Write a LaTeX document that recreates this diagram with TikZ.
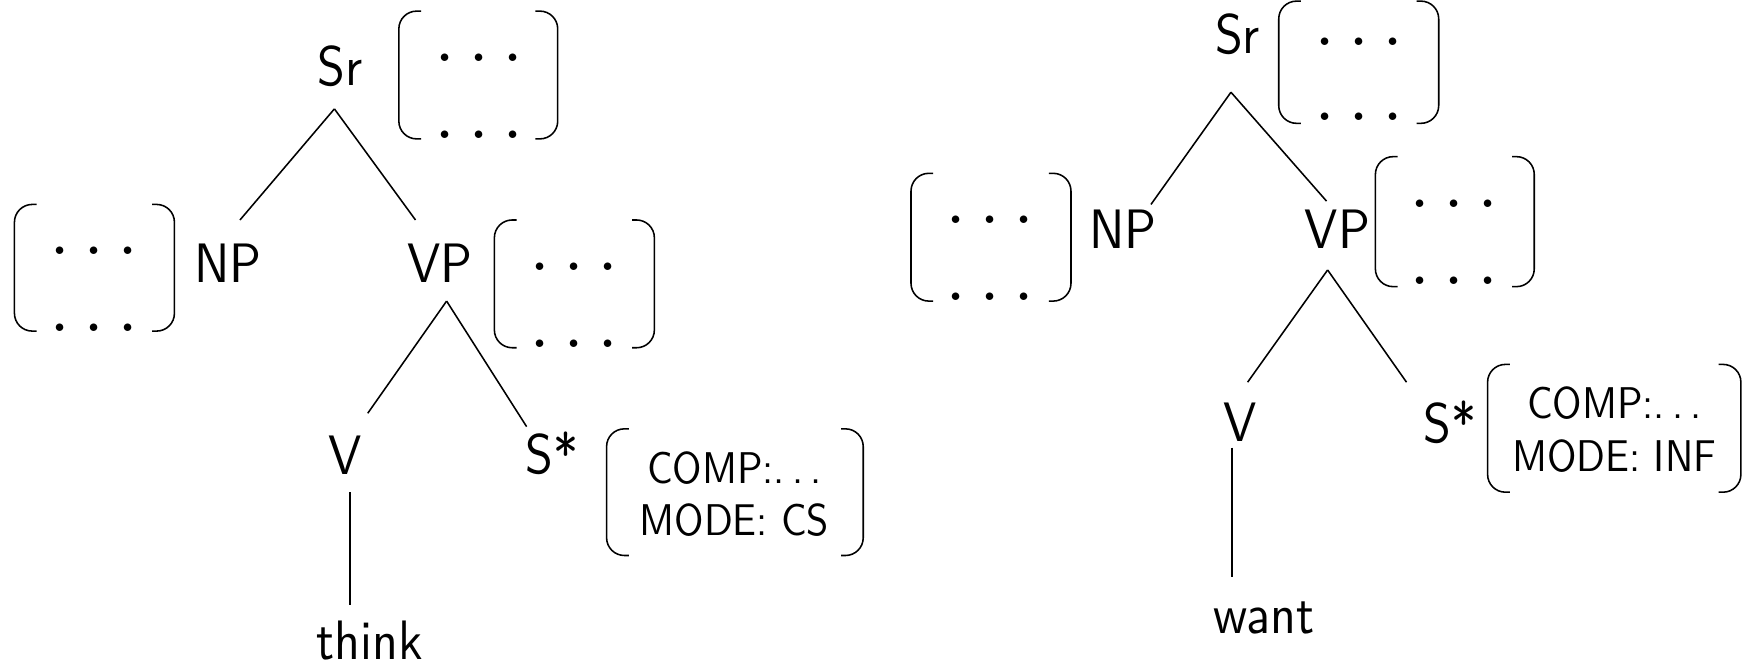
\documentclass[tikz,border=0pt]{standalone}
\usepackage{fix-cm}
\usepackage{fontspec}
\setsansfont{lmsans10-regular.otf}[FakeStretch=0.9]
\usetikzlibrary{calc}
\newcommand\rowdots{$\ldotp\ldotp\ldotp$}
\newcommand\spdots{.\hspace{3.2pt}.\hspace{3.2pt}.}
\newcommand\avmbox[4]{%
  \draw[brk] (#1+20,#3) -- (#1,#3) -- (#1,#4) -- (#1+20,#4);
  \draw[brk] (#2-20,#3) -- (#2,#3) -- (#2,#4) -- (#2-20,#4);}
\begin{document}
\begin{tikzpicture}[x=0.5pt,y=-0.5pt,
  lbl/.style={font=\fontsize{25}{30}\selectfont\sffamily, inner sep=0pt, anchor=base},
  ftr/.style={font=\fontsize{20}{24}\selectfont\sffamily, inner sep=0pt, anchor=base},
  dotrow/.style={font=\fontsize{35}{42}\selectfont, inner sep=0pt, anchor=base, text height=4pt, text depth=0pt},
  edge/.style={line width=0.7pt},
  brk/.style={line width=0.7pt, rounded corners=8pt}]
\useasboundingbox (0,0) rectangle (1568,602);
% ---------------- left tree: think ----------------
\node[lbl] (Sr1) at (306,77) {Sr};
\node[lbl] (NP1) at (205,254) {NP};
\node[lbl] (VP1) at (396,254) {VP};
\node[lbl] (V1) at (311,427) {V};
\node[lbl] (S1) at (497,426) {S*};
\node[lbl] (think) at (333,594) {think};
\draw[edge] ($(Sr1.base)+(-5,21)$) -- ($(NP1.base)+(11,-56)$);
\draw[edge] ($(Sr1.base)+(-5,21)$) -- ($(VP1.base)+(-22,-56)$);
\draw[edge] ($(VP1.base)+(6,17)$) -- ($(V1.base)+(20,-55)$);
\draw[edge] ($(VP1.base)+(6,17)$) -- ($(S1.base)+(-23,-42)$);
\draw[edge] ($(V1.base)+(4,16)$) -- ($(think.base)+(-18,-49)$);
% AVMs
\avmbox{359}{502}{10}{125}
\node[dotrow] (sr1a) at (431,55) {\rowdots};
\node[dotrow] (sr1b) at (431,124.5) {\rowdots};
\avmbox{13}{157}{184}{298}
\node[dotrow] (np1a) at (85,229.5) {\rowdots};
\node[dotrow] (np1b) at (85,298.5) {\rowdots};
\avmbox{445}{589}{198}{313}
\node[dotrow] (vp1a) at (517,243.5) {\rowdots};
\node[dotrow] (vp1b) at (517,312.5) {\rowdots};
\avmbox{546}{777}{386}{500}
\node[ftr] (comp1) at (661,435) {COMP:\spdots};
\node[ftr] (mode1) at (661,482) {MODE:\ CS};
% ---------------- right tree: want ----------------
\node[lbl] (Sr2) at (1114,48) {Sr};
\node[lbl] (NP2) at (1011,224) {NP};
\node[lbl] (VP2) at (1204,224) {VP};
\node[lbl] (V2) at (1116,397) {V};
\node[lbl] (S2) at (1305,398) {S*};
\node[lbl] (want) at (1138,570) {want};
\draw[edge] ($(Sr2.base)+(-6,35)$) -- ($(NP2.base)+(25,-40)$);
\draw[edge] ($(Sr2.base)+(-6,35)$) -- ($(VP2.base)+(-10,-43)$);
\draw[edge] ($(VP2.base)+(-9,19)$) -- ($(V2.base)+(7,-53)$);
\draw[edge] ($(VP2.base)+(-9,19)$) -- ($(S2.base)+(-39,-54)$);
\draw[edge] ($(V2.base)+(-7,6)$) -- ($(want.base)+(-29,-51)$);
\avmbox{1151}{1295}{1}{111}
\node[dotrow] (sr2a) at (1223,40.5) {\rowdots};
\node[dotrow] (sr2b) at (1223,108.5) {\rowdots};
\avmbox{820}{964}{156}{271}
\node[dotrow] (np2a) at (891,201.5) {\rowdots};
\node[dotrow] (np2b) at (891,270.5) {\rowdots};
\avmbox{1238}{1381}{141}{258}
\node[dotrow] (vp2a) at (1309,186.5) {\rowdots};
\node[dotrow] (vp2b) at (1309,256.5) {\rowdots};
\avmbox{1339}{1567}{328}{443}
\node[ftr] (comp2) at (1453,377) {COMP:\spdots};
\node[ftr] (mode2) at (1453,424) {MODE:\ INF};
\end{tikzpicture}
\end{document}
